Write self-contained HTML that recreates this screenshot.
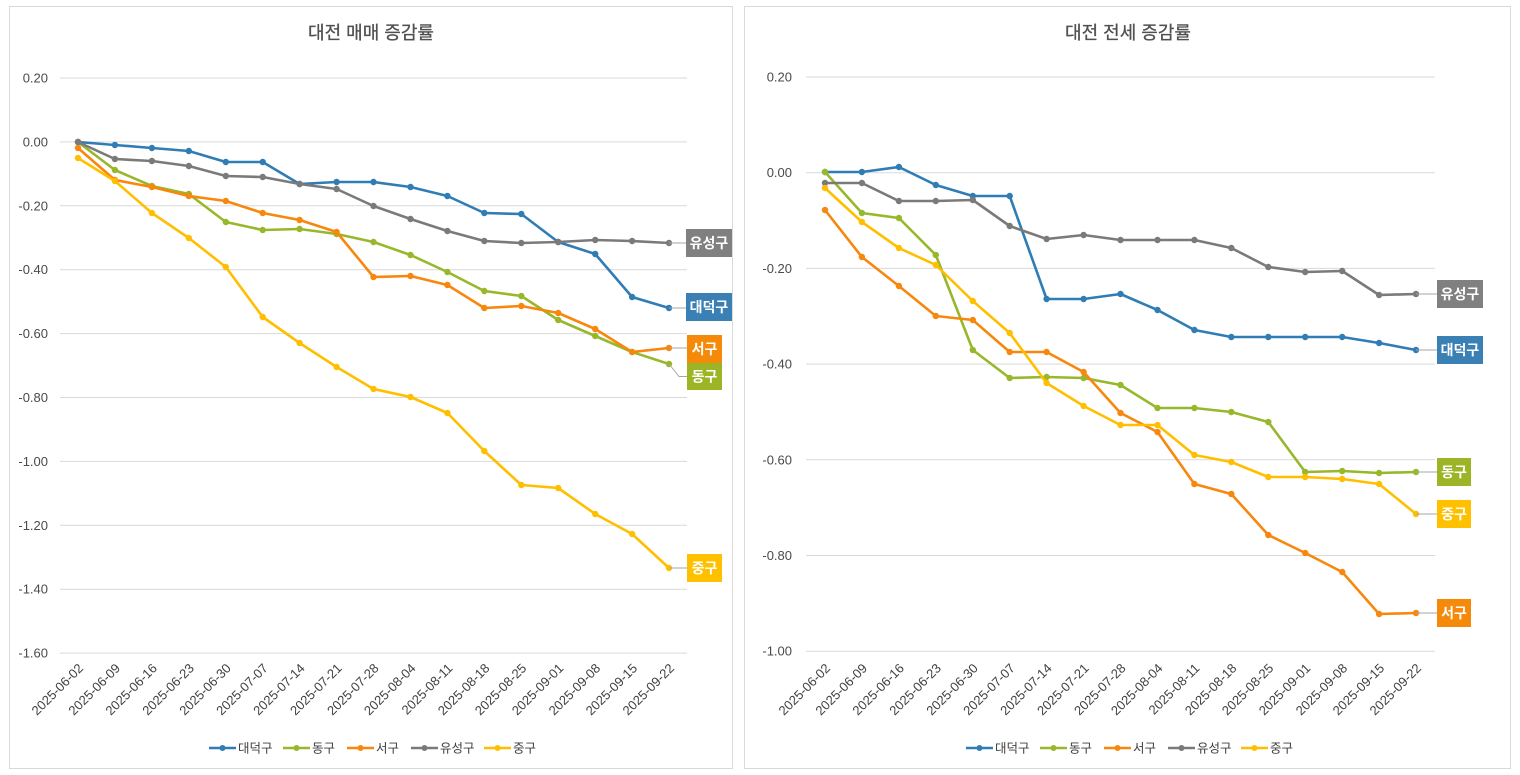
<!DOCTYPE html>
<html><head><meta charset="utf-8">
<style>
html,body{margin:0;padding:0;background:#fff;}
svg{display:block;font-family:"Liberation Sans","Noto Sans CJK KR",sans-serif;}
</style></head>
<body>
<svg id="s" width="1520" height="775" viewBox="0 0 1520 775" xmlns="http://www.w3.org/2000/svg">
<rect x="0" y="0" width="1520" height="775" fill="#fff"/>
<rect x="9.5" y="6.5" width="723" height="762" fill="#fff" stroke="#d9d9d9" stroke-width="1"/>
<rect x="744.5" y="6.5" width="766" height="762" fill="#fff" stroke="#d9d9d9" stroke-width="1"/>
<g id="content"></g>
</svg>
<script>
(function(){
var NS="http://www.w3.org/2000/svg";
var g=document.getElementById("content");
function el(t,a,txt){var e=document.createElementNS(NS,t);for(var k in a)e.setAttribute(k,a[k]);if(txt!==undefined)e.textContent=txt;g.appendChild(e);return e;}
var dates=["2025-06-02","2025-06-09","2025-06-16","2025-06-23","2025-06-30","2025-07-07","2025-07-14","2025-07-21","2025-07-28","2025-08-04","2025-08-11","2025-08-18","2025-08-25","2025-09-01","2025-09-08","2025-09-15","2025-09-22"];
var C={b:"#2f7db4",g:"#97b82a",o:"#f7870d",y:"#ffbf00",k:"#7a7a7a"};
var LC={b:"#3a80b5",g:"#9bb526",o:"#f58a0a",y:"#ffc000",k:"#808080"};
function chart(o){
  for(var i=0;i<o.ticks.length;i++){
    var y=o.y0+i*o.dy;
    el("line",{x1:o.gx1,x2:o.gx2,y1:y,y2:y,stroke:"#d9d9d9","stroke-width":1});
    el("text",{x:o.tx,y:y+4.5,"text-anchor":"end","font-size":"13",fill:"#4a4a4a"},o.ticks[i]);
  }
  el("text",{x:o.cx,y:39,"text-anchor":"middle","font-size":"18",fill:"#505050","stroke":"#505050","stroke-width":"0.3"},o.title);
  for(var i=0;i<17;i++){
    var x=o.x0+i*o.step;
    el("text",{x:x+6,y:669,"text-anchor":"end","font-size":"13",fill:"#404040",transform:"rotate(-45 "+(x+6)+" 669)"},dates[i]);
  }
  var order=["b","g","o","k","y"];
  order.forEach(function(s){
    var d=o.data[s],pts=[];
    for(var i=0;i<17;i++)pts.push((o.x0+i*o.step).toFixed(1)+","+d[i]);
    el("polyline",{points:pts.join(" "),fill:"none",stroke:C[s],"stroke-width":2.6,"stroke-linejoin":"round","stroke-linecap":"round"});
    for(var i=0;i<17;i++)el("circle",{cx:(o.x0+i*o.step).toFixed(1),cy:d[i],r:3.2,fill:C[s]});
  });
  o.labels.forEach(function(L){
    var lx=o.x0+16*o.step, ly=o.data[L.s][16];
    var my=(L.y1+L.y2)/2;
    if(Math.abs(my-ly)<2){
      el("line",{x1:lx,y1:ly,x2:L.x1,y2:ly,stroke:"#a6a6a6","stroke-width":1});
    } else {
      el("polyline",{points:lx+","+ly+" "+(lx+10)+","+my+" "+L.x1+","+my,fill:"none",stroke:"#a6a6a6","stroke-width":1});
    }
    el("rect",{x:L.x1,y:L.y1,width:L.x2-L.x1,height:L.y2-L.y1,fill:LC[L.s]});
    el("text",{x:(L.x1+L.x2)/2,y:my+5,"text-anchor":"middle","font-size":"14","font-weight":"bold",fill:"#fff"},L.t);
  });
  var items=[["b","대덕구",0],["g","동구",74],["o","서구",138],["k","유성구",202],["y","중구",275]];
  items.forEach(function(it){
    var x=o.lx+it[2];
    el("line",{x1:x,x2:x+27,y1:748,y2:748,stroke:C[it[0]],"stroke-width":2.6});
    el("circle",{cx:x+13.5,cy:748,r:3,fill:C[it[0]]});
    el("text",{x:x+29,y:752.5,"font-size":"12.5",fill:"#404040"},it[1]);
  });
}
chart({
  title:"대전 매매 증감률",cx:371,
  ticks:["0.20","0.00","-0.20","-0.40","-0.60","-0.80","-1.00","-1.20","-1.40","-1.60"],
  y0:78,dy:63.9,gx1:60,gx2:687,tx:48,
  x0:78,step:36.94,lx:209,
  data:{
   b:[142,145,148,151,162,162,184,182,182,187,196,213,214,242,254,297,308],
   k:[142,159,161,166,176,177,184,189,206,219,231,241,243,242,240,241,243],
   g:[142,170,186,194,222,230,229,234,242,255,272,291,296,320,336,352,364],
   o:[148,180,187,196,201,213,220,232,277,276,285,308,306,313,329,352,348],
   y:[158,181,213,238,267,317,343,367,389,397,413,451,485,488,514,534,568]
  },
  labels:[
   {s:"k",t:"유성구",x1:686,x2:732,y1:229,y2:257},
   {s:"b",t:"대덕구",x1:686,x2:732,y1:293,y2:321},
   {s:"o",t:"서구",x1:687,x2:722,y1:335,y2:363},
   {s:"g",t:"동구",x1:687,x2:722,y1:363,y2:390},
   {s:"y",t:"중구",x1:687,x2:722,y1:554,y2:582}
  ]
});
chart({
  title:"대전 전세 증감률",cx:1128,
  ticks:["0.20","0.00","-0.20","-0.40","-0.60","-0.80","-1.00"],
  y0:77,dy:95.7,gx1:806,gx2:1435,tx:792,
  x0:825,step:36.94,lx:966,
  data:{
   b:[172,172,167,185,196,196,299,299,294,310,330,337,337,337,337,343,350],
   k:[183,183,201,201,200,226,239,235,240,240,240,248,267,272,271,295,294],
   g:[172,213,218,255,350,378,377,378,385,408,408,412,422,472,471,473,472],
   o:[210,257,286,316,320,352,352,372,413,432,484,494,535,553,572,614,613],
   y:[188,222,248,265,301,333,383,406,425,425,455,462,477,477,479,484,514]
  },
  labels:[
   {s:"k",t:"유성구",x1:1437,x2:1483,y1:280,y2:308},
   {s:"b",t:"대덕구",x1:1437,x2:1483,y1:336,y2:364},
   {s:"g",t:"동구",x1:1437,x2:1471,y1:458,y2:486},
   {s:"y",t:"중구",x1:1437,x2:1471,y1:500,y2:528},
   {s:"o",t:"서구",x1:1437,x2:1471,y1:599,y2:627}
  ]
});
})();
</script>
</body></html>
